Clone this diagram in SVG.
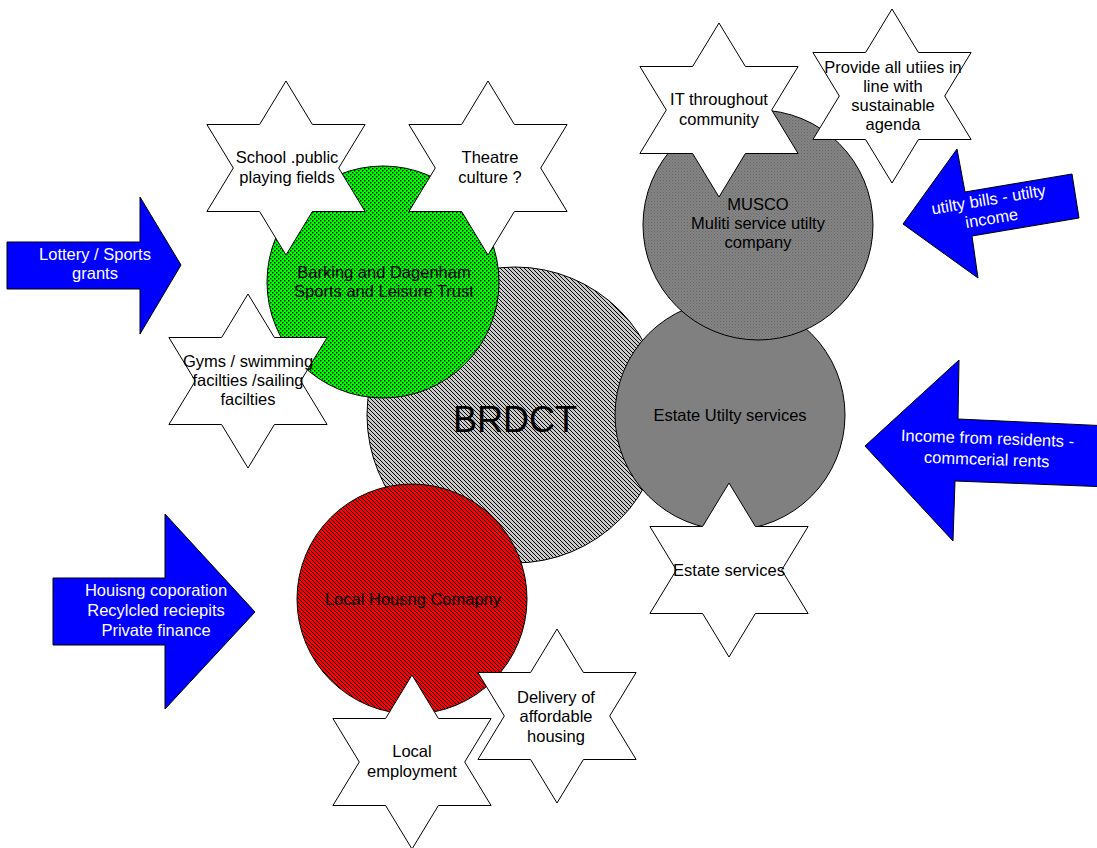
<svg xmlns="http://www.w3.org/2000/svg" xmlns:xlink="http://www.w3.org/1999/xlink" width="1097" height="848" viewBox="0 0 1097 848">
<style>
.t{font-family:"Liberation Sans",Arial,sans-serif;font-size:16.5px;fill:#000;text-anchor:middle}
.w{fill:#fff}
.big{font-size:36px}
.circ{stroke:#000;stroke-width:1}
.arrow{fill:#0000ff;stroke:#000;stroke-width:1;stroke-linejoin:miter}
.px{fill:#000}
</style>
<defs>
<pattern id="hatchGray" patternUnits="userSpaceOnUse" width="4" height="4">
<rect width="4" height="4" fill="#c8c8c8"/>
<rect class="px" x="0" y="0" width="1" height="1"/>
<rect class="px" x="1" y="1" width="1" height="1"/>
<rect class="px" x="2" y="2" width="1" height="1"/>
<rect class="px" x="3" y="3" width="1" height="1"/>
</pattern>
<pattern id="hatchRed" patternUnits="userSpaceOnUse" width="4" height="4">
<rect width="4" height="4" fill="#ff0000"/>
<rect class="px" x="0" y="0" width="1" height="1"/>
<rect class="px" x="1" y="1" width="1" height="1"/>
<rect class="px" x="2" y="2" width="1" height="1"/>
<rect class="px" x="3" y="3" width="1" height="1"/>
</pattern>
<pattern id="checkGreen" patternUnits="userSpaceOnUse" width="4" height="4">
<rect width="4" height="4" fill="#00ff00"/>
<rect class="px" x="0" y="0" width="1.4" height="1.4"/>
<rect class="px" x="2" y="2" width="1.4" height="1.4"/>
</pattern>
<pattern id="dotGray" patternUnits="userSpaceOnUse" width="3" height="3">
<rect width="3" height="3" fill="#858585"/>
<rect x="0" y="0" width="1" height="1" fill="#666"/>
<rect x="1.5" y="1.5" width="1" height="1" fill="#6a6a6a"/>
</pattern>
<polygon id="star" points="0,-87 26.4,-43.5 79.1,-43.5 52.7,0 79.1,43.5 26.4,43.5 0,87 -26.4,43.5 -79.1,43.5 -52.7,0 -79.1,-43.5 -26.4,-43.5" fill="#fff" stroke="#000" stroke-width="1"/>
</defs>
<rect width="1097" height="848" fill="#fff"/>

<g id="brdct">
<circle class="circ" cx="515" cy="415" r="148" fill="url(#hatchGray)"/>
<text class="t big" x="515" y="432">BRDCT</text>
</g>
<g id="sports-trust">
<circle class="circ" cx="383" cy="282" r="116" fill="url(#checkGreen)"/>
<text class="t" x="384" y="278">Barking and Dagenham</text>
<text class="t" x="384" y="297">Sports and Leisure Trust</text>
</g>
<g id="housing-company">
<circle class="circ" cx="412" cy="599" r="115" fill="url(#hatchRed)"/>
<text class="t" x="413" y="605">Local Housng Comapny</text>
</g>
<g id="estate-utility">
<circle class="circ" cx="730" cy="415" r="115" fill="#808080"/>
<text class="t" x="730" y="421">Estate Utilty services</text>
</g>
<g id="musco">
<circle class="circ" cx="758" cy="225" r="115" fill="url(#dotGray)"/>
<text class="t" x="758" y="210">MUSCO</text>
<text class="t" x="758" y="229">Muliti service utilty</text>
<text class="t" x="758" y="248">company</text>
</g>

<g id="star-school">
<use xlink:href="#star" href="#star" x="286" y="168"/>
<text class="t" x="287" y="163">School .public</text>
<text class="t" x="287" y="183">playing fields</text>
</g>
<g id="star-theatre">
<use xlink:href="#star" href="#star" x="488" y="168"/>
<text class="t" x="490" y="163">Theatre</text>
<text class="t" x="490" y="183">culture ?</text>
</g>
<g id="star-gyms">
<use xlink:href="#star" href="#star" x="248" y="381"/>
<text class="t" x="248" y="367">Gyms / swimming</text>
<text class="t" x="248" y="386">facilties /sailing</text>
<text class="t" x="248" y="405">facilties</text>
</g>
<g id="star-it">
<use xlink:href="#star" href="#star" x="719" y="110"/>
<text class="t" x="719" y="105">IT throughout</text>
<text class="t" x="719" y="125">community</text>
</g>
<g id="star-utilities">
<use xlink:href="#star" href="#star" x="892" y="96"/>
<text class="t" x="893" y="73">Provide all utiies in</text>
<text class="t" x="893" y="92">line with</text>
<text class="t" x="893" y="111">sustainable</text>
<text class="t" x="893" y="130">agenda</text>
</g>
<g id="star-estate-services">
<use xlink:href="#star" href="#star" x="729" y="570"/>
<text class="t" x="729" y="576">Estate services</text>
</g>
<g id="star-delivery">
<use xlink:href="#star" href="#star" x="557" y="716"/>
<text class="t" x="556" y="703">Delivery of</text>
<text class="t" x="556" y="722">affordable</text>
<text class="t" x="556" y="742">housing</text>
</g>
<g id="star-employment">
<use xlink:href="#star" href="#star" x="412" y="762"/>
<text class="t" x="412" y="757">Local</text>
<text class="t" x="412" y="777">employment</text>
</g>

<g id="arrow-lottery">
<polygon class="arrow" points="7,242 140,242 140,197 181,265 140,334 140,289 7,289"/>
<text class="t w" x="95" y="260">Lottery / Sports</text>
<text class="t w" x="95" y="279">grants</text>
</g>
<g id="arrow-housing-finance">
<polygon class="arrow" points="53,578 165,578 165,514 255,612 165,709 165,645 53,645"/>
<text class="t w" x="156" y="596">Houisng coporation</text>
<text class="t w" x="156" y="616">Recylcled reciepits</text>
<text class="t w" x="156" y="636">Private finance</text>
</g>
<g id="arrow-utility-bills">
<polygon class="arrow" points="903,224 957,149 965,192 1072,174 1079,218 972,236 978,278"/>
<g transform="translate(990,208.5) rotate(-9.5)">
<text class="t w" x="0" y="-3.5">utilty bills - utilty</text>
<text class="t w" x="0" y="15.5">income</text>
</g>
</g>
<g id="arrow-residents">
<polygon class="arrow" points="865,446 959,360 958,419 1110,426 1110,487 955,481 953,541"/>
<g transform="translate(987,452) rotate(2)">
<text class="t w" x="0" y="-8">Income from residents -</text>
<text class="t w" x="0" y="13">commcerial rents</text>
</g>
</g>
<g id="connectors"/>
</svg>
